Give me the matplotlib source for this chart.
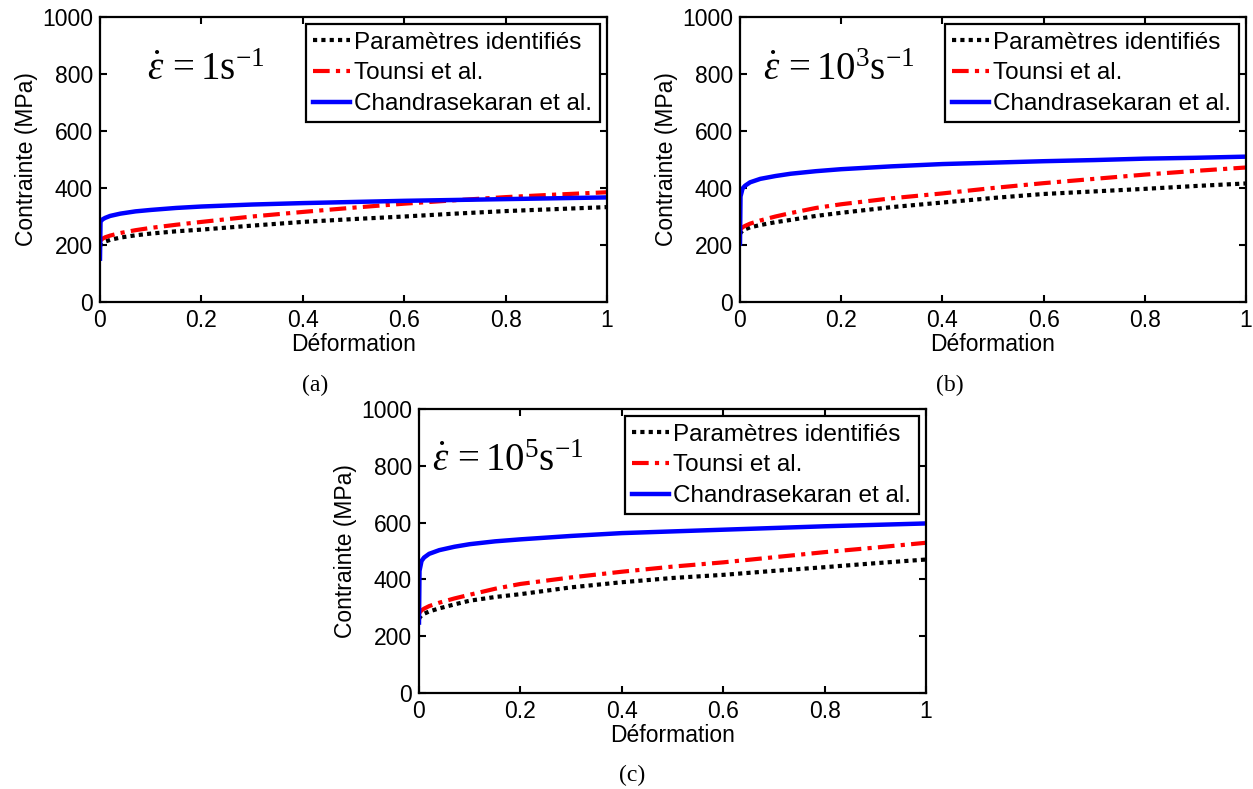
import matplotlib
matplotlib.use("Agg")
import matplotlib.pyplot as plt

# Strain points (Déformation)
strain = [0, 0.001, 0.005, 0.01, 0.02, 0.04, 0.07, 0.1, 0.15, 0.2, 0.3, 0.4, 0.5, 0.6, 0.7, 0.8, 0.9, 1.0]

# (a) 1 s^-1
a_param = [195, 200, 207, 212, 218, 226, 234, 240, 248, 254, 268, 281, 291, 300, 310, 319, 326, 333]
a_tounsi = [212, 216, 222, 227, 233, 242, 252, 260, 271, 281, 300, 316, 331, 345, 357, 368, 377, 385]
a_chandra = [152, 282, 290, 295, 302, 310, 318, 323, 330, 335, 342, 347, 351, 355, 358, 361, 364, 367]

# (b) 10^3 s^-1
b_param = [238, 243, 250, 255, 262, 270, 280, 288, 302, 313, 333, 349, 365, 379, 388, 397, 407, 416]
b_tounsi = [250, 255, 262, 267, 275, 286, 300, 312, 330, 343, 364, 381, 400, 417, 432, 447, 460, 472]
b_chandra = [205, 370, 398, 408, 420, 432, 442, 450, 459, 466, 476, 484, 489, 494, 498, 503, 506, 510]

# (c) 10^5 s^-1
c_param = [260, 265, 273, 279, 287, 298, 312, 325, 338, 348, 372, 390, 405, 416, 430, 443, 457, 470]
c_tounsi = [278, 283, 291, 297, 306, 318, 333, 346, 367, 384, 407, 427, 445, 460, 478, 496, 512, 529]
c_chandra = [248, 430, 465, 477, 490, 503, 515, 524, 534, 541, 553, 563, 569, 575, 581, 587, 592, 597]

series_labels = ["Paramètres identifiés", "Tounsi et al.", "Chandrasekaran et al."]
rate_texts = [r"$\dot{\varepsilon}\,=1\mathrm{s}^{-1}$",
              r"$\dot{\varepsilon}\,=10^{3}\mathrm{s}^{-1}$",
              r"$\dot{\varepsilon}\,=10^{5}\mathrm{s}^{-1}$"]
panel_labels = ["(a)", "(b)", "(c)"]
xticks = [0, 0.2, 0.4, 0.6, 0.8, 1]
xticklabels = ["0", "0.2", "0.4", "0.6", "0.8", "1"]
yticks = [0, 200, 400, 600, 800, 1000]

plt.rcParams['mathtext.fontset'] = 'custom'
plt.rcParams['mathtext.rm'] = 'Liberation Serif'
plt.rcParams['mathtext.it'] = 'Liberation Serif:italic'
plt.rcParams['font.family'] = ['Liberation Sans', 'DejaVu Sans']

W, H = 1253, 789
fig = plt.figure(figsize=(W/100, H/100), dpi=100)

# axes boxes in pixels: left, top, right, bottom
boxes = [(100, 17, 607, 302), (740, 17, 1246, 302), (419, 409, 926, 693)]
label_pos = [(315, 385), (950, 385), (632, 775)]
rate_x = [0.093, 0.045, 0.025]

data = [(a_param, a_tounsi, a_chandra), (b_param, b_tounsi, b_chandra), (c_param, c_tounsi, c_chandra)]

for i in range(3):
    l, t, r, b = boxes[i]
    ax = fig.add_axes([l/W, 1-b/H, (r-l)/W, (b-t)/H])
    p, tt, c = data[i]
    ax.plot(strain, p, color='black', linestyle=(0, (1, 1)), lw=3, label=series_labels[0])
    ax.plot(strain, tt, color='red', linestyle=(0, (4, 1.5, 1, 1.5)), lw=3, label=series_labels[1])
    ax.plot(strain, c, color='blue', linestyle='-', lw=3.2, label=series_labels[2])
    ax.set_xlim(0, 1)
    ax.set_ylim(0, 1000)
    ax.set_xticks(xticks)
    ax.set_xticklabels(xticklabels)
    ax.set_yticks(yticks)
    ax.tick_params(direction='in', top=True, right=True, length=5, width=1.5,
                   labelsize=16.5, pad=5)
    for s in ax.spines.values():
        s.set_linewidth(1.6)
    ax.set_xlabel("Déformation", fontsize=16.5, labelpad=1)
    ax.set_ylabel("Contrainte (MPa)", fontsize=16.5, labelpad=3)
    leg = ax.legend(loc='upper right', fontsize=17.5, handlelength=1.5, handletextpad=0.2,
                    borderpad=0.3, labelspacing=0.36, fancybox=False, framealpha=1,
                    edgecolor='black', borderaxespad=0.3)
    leg.get_frame().set_linewidth(1.6)
    ax.text(rate_x[i], 0.78, rate_texts[i], transform=ax.transAxes, fontsize=28,
            ha='left', va='baseline')
    fig.text(label_pos[i][0]/W, 1-label_pos[i][1]/H, panel_labels[i], fontsize=17,
             family='Liberation Serif', ha='center', va='center')

fig.savefig("out.png", dpi=100)
